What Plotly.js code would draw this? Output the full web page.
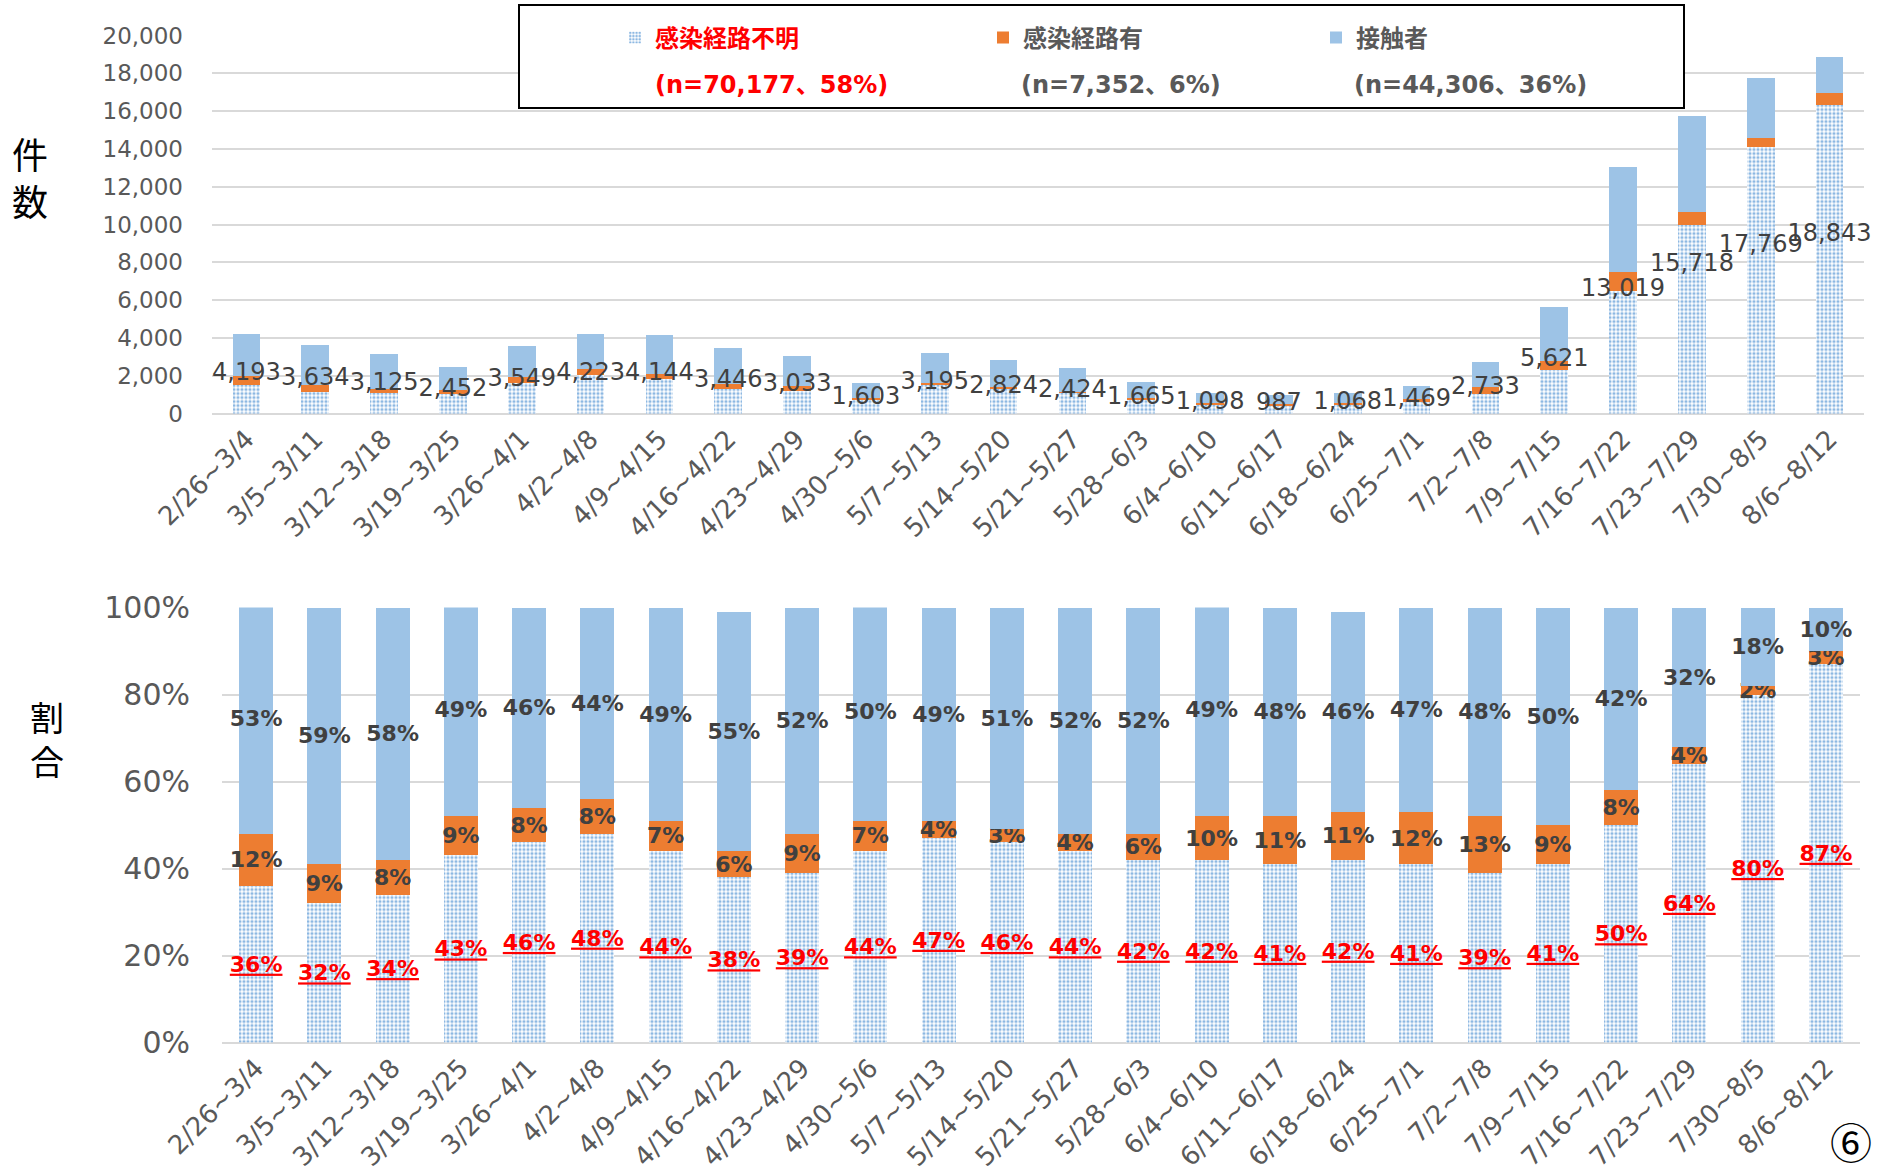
<!DOCTYPE html>
<html><head><meta charset="utf-8">
<script src="https://cdn.plot.ly/plotly-3.0.1.min.js"></script>
<style>html,body{margin:0;padding:0;background:#fff;} #chart{width:1879px;height:1172px;}</style>
</head><body><div id="chart"></div>
<script>
// ---- data ----
const weeks = ["2/26~3/4","3/5~3/11","3/12~3/18","3/19~3/25","3/26~4/1","4/2~4/8","4/9~4/15","4/16~4/22","4/23~4/29","4/30~5/6","5/7~5/13","5/14~5/20","5/21~5/27","5/28~6/3","6/4~6/10","6/11~6/17","6/18~6/24","6/25~7/1","7/2~7/8","7/9~7/15","7/16~7/22","7/23~7/29","7/30~8/5","8/6~8/12"];
const totals = [4193,3634,3125,2452,3549,4223,4144,3446,3033,1603,3195,2824,2424,1665,1098,987,1068,1469,2733,5621,13019,15718,17769,18843];
const unknownCount = [1490,1163,1063,1050,1633,2027,1823,1323,1183,700,1502,1299,1067,699,458,405,453,602,1058,2280,6457,9997,14127,16318];
const linkedCount = [503,327,250,211,284,338,290,220,273,105,128,85,97,100,105,109,122,176,355,506,1042,659,426,641];
const contactCount = [2200,2144,1812,1191,1632,1858,2031,1903,1577,798,1565,1440,1260,866,535,473,493,691,1320,2835,5520,5062,3216,1884];
const unknownPct = [36,32,34,43,46,48,44,38,39,44,47,46,44,42,42,41,42,41,39,41,50,64,80,87];
const linkedPct = [12,9,8,9,8,8,7,6,9,7,4,3,4,6,10,11,11,12,13,9,8,4,2,3];
const contactPct = [53,59,58,49,46,44,49,55,52,50,49,51,52,52,49,48,46,47,48,50,42,32,18,10];
const seriesNames = ["感染経路不明","感染経路有","接触者"];
const seriesNotes = ["(n=70,177、58%)","(n=7,352、6%)","(n=44,306、36%)"];

// ---- helpers for layout positions (pixels -> paper) ----
const W = 1879, H = 1172;
const px = v => v / W;
const py = v => 1 - v / H;

const CJK = '"Noto Sans CJK JP", "Noto Sans", sans-serif';
const LAT = '"DejaVu Sans", "Noto Sans CJK JP", sans-serif';
const BLUE = '#9DC3E6', ORANGE = '#ED7D31', RED = '#FF0000', DARK = '#404040', GRAY = '#595959';
const patternMarker = {color: '#ffffff', pattern: {shape: '.', fgcolor: '#8DB8E2', bgcolor: '#ffffff', size: 4, solidity: 0.5}, line: {width: 0}};

const fmt = n => n.toLocaleString('en-US');

const traces = [
  {type: 'bar', x: weeks, y: unknownCount, name: seriesNames[0], xaxis: 'x', yaxis: 'y', width: 0.4,
   marker: patternMarker, legend: 'legend', hoverinfo: 'skip'},
  {type: 'bar', x: weeks, y: linkedCount, name: seriesNames[1], xaxis: 'x', yaxis: 'y', width: 0.4,
   marker: {color: ORANGE, line: {width: 0}}, legend: 'legend2', hoverinfo: 'skip'},
  {type: 'bar', x: weeks, y: contactCount, name: seriesNames[2], xaxis: 'x', yaxis: 'y', width: 0.4,
   marker: {color: BLUE, line: {width: 0}}, legend: 'legend3', hoverinfo: 'skip'},
  {type: 'scatter', mode: 'text', x: weeks, y: totals.map(t => t / 2), text: totals.map(fmt),
   textposition: 'middle center', textfont: {size: 24, color: DARK, family: LAT},
   xaxis: 'x', yaxis: 'y', showlegend: false, hoverinfo: 'skip', cliponaxis: false},
  {type: 'bar', x: weeks, y: unknownPct, name: seriesNames[0], xaxis: 'x2', yaxis: 'y2', width: 0.5,
   marker: patternMarker, showlegend: false, hoverinfo: 'skip',
   text: unknownPct.map(v => v + '%'), textposition: 'inside', insidetextanchor: 'middle', textangle: 0,
   textfont: {size: 22, color: RED, weight: 'bold', family: LAT, lineposition: 'under'}},
  {type: 'bar', x: weeks, y: linkedPct, name: seriesNames[1], xaxis: 'x2', yaxis: 'y2', width: 0.5,
   marker: {color: ORANGE, line: {width: 0}}, showlegend: false, hoverinfo: 'skip',
   text: linkedPct.map(v => v + '%'), textposition: 'inside', insidetextanchor: 'middle', textangle: 0,
   textfont: {size: 22, color: DARK, weight: 'bold', family: LAT}},
  {type: 'bar', x: weeks, y: contactPct, name: seriesNames[2], xaxis: 'x2', yaxis: 'y2', width: 0.5,
   marker: {color: BLUE, line: {width: 0}}, showlegend: false, hoverinfo: 'skip',
   text: contactPct.map(v => v + '%'), textposition: 'inside', insidetextanchor: 'middle', textangle: 0,
   textfont: {size: 22, color: DARK, weight: 'bold', family: LAT}}
];

const legendBase = {xanchor: 'left', yanchor: 'middle', y: py(38), bgcolor: 'rgba(0,0,0,0)', borderwidth: 0,
  orientation: 'v'};

const layout = {
  width: W, height: H, margin: {l: 0, r: 0, t: 0, b: 0},
  paper_bgcolor: '#ffffff', plot_bgcolor: '#ffffff',
  font: {family: CJK, color: GRAY},
  barmode: 'stack',
  uniformtext: {mode: 'show', minsize: 22},
  hovermode: false,
  xaxis: {domain: [px(212), px(1864)], anchor: 'y', type: 'category', range: [-0.5, 23.5], tickangle: -45,
    tickfont: {size: 26, color: GRAY, family: LAT}, showgrid: false, showline: false, ticks: '', ticklabelstandoff: 4},
  yaxis: {domain: [py(413.5), py(35.5)], anchor: 'x', range: [0, 20000], dtick: 2000, tickformat: ',d',
    tickfont: {size: 23, color: GRAY, family: LAT}, gridcolor: '#D9D9D9', gridwidth: 2,
    zeroline: true, zerolinecolor: '#D9D9D9', zerolinewidth: 2, showline: false, ticks: '', ticklabelstandoff: 28},
  xaxis2: {domain: [px(222), px(1860)], anchor: 'y2', type: 'category', range: [-0.5, 23.5], tickangle: -45,
    tickfont: {size: 26, color: GRAY, family: LAT}, showgrid: false, showline: false, ticks: '', ticklabelstandoff: 4},
  yaxis2: {domain: [py(1042.5), py(607.5)], anchor: 'x2', range: [0, 100], dtick: 20, ticksuffix: '%',
    tickfont: {size: 30, color: GRAY, family: LAT}, gridcolor: '#D9D9D9', gridwidth: 2,
    zeroline: true, zerolinecolor: '#D9D9D9', zerolinewidth: 2, showline: false, ticks: '', ticklabelstandoff: 31},
  legend: Object.assign({}, legendBase, {x: px(615), font: {family: CJK, size: 24, color: RED, weight: 'bold'}}),
  legend2: Object.assign({}, legendBase, {x: px(983), font: {family: CJK, size: 24, color: GRAY, weight: 'bold'}}),
  legend3: Object.assign({}, legendBase, {x: px(1316), font: {family: CJK, size: 24, color: GRAY, weight: 'bold'}}),
  shapes: [
    {type: 'rect', xref: 'paper', yref: 'paper', x0: px(519), x1: px(1684), y0: py(108), y1: py(5),
     line: {color: '#000000', width: 2}, fillcolor: '#ffffff', layer: 'above'}
  ],
  annotations: [
    {xref: 'paper', yref: 'paper', x: px(653), y: py(85), xanchor: 'left', yanchor: 'middle', showarrow: false,
     text: seriesNotes[0], font: {family: LAT, size: 24, color: RED, weight: 'bold'}},
    {xref: 'paper', yref: 'paper', x: px(1019), y: py(85), xanchor: 'left', yanchor: 'middle', showarrow: false,
     text: seriesNotes[1], font: {family: LAT, size: 24, color: GRAY, weight: 'bold'}},
    {xref: 'paper', yref: 'paper', x: px(1352), y: py(85), xanchor: 'left', yanchor: 'middle', showarrow: false,
     text: seriesNotes[2], font: {family: LAT, size: 24, color: GRAY, weight: 'bold'}},
    {xref: 'paper', yref: 'paper', x: px(30), y: py(177), xanchor: 'center', yanchor: 'middle', showarrow: false,
     text: '件<br>数', font: {family: CJK, size: 36, color: '#000000'}},
    {xref: 'paper', yref: 'paper', x: px(47), y: py(738), xanchor: 'center', yanchor: 'middle', showarrow: false,
     text: '割<br>合', font: {family: CJK, size: 34, color: '#000000'}},
    {xref: 'paper', yref: 'paper', x: px(1851), y: py(1140), xanchor: 'center', yanchor: 'middle', showarrow: false,
     text: '⑥', font: {family: CJK, size: 42, color: '#000000'}}
  ]
};

Plotly.newPlot('chart', traces, layout, {staticPlot: true, displayModeBar: false});
</script>
</body></html>
